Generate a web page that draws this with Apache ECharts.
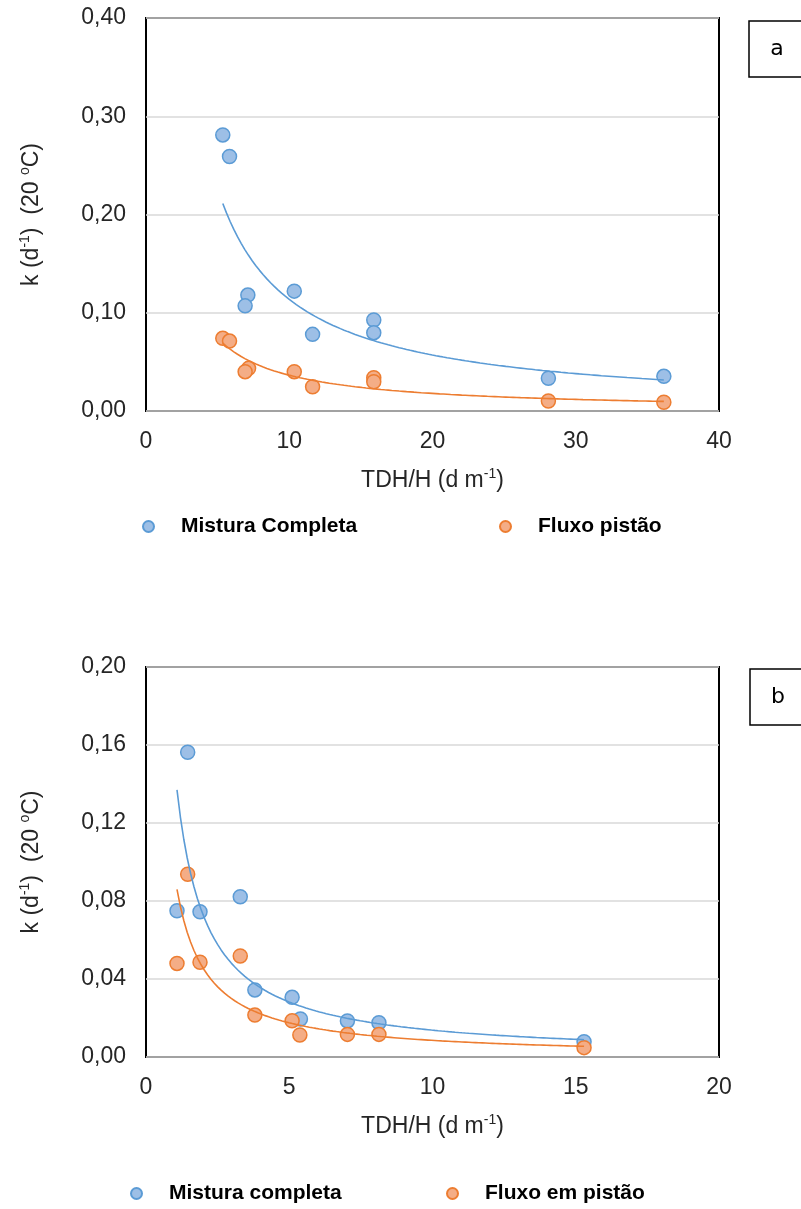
<!DOCTYPE html>
<html><head><meta charset="utf-8">
<script src="https://cdn.jsdelivr.net/npm/echarts@6/dist/echarts.min.js"></script>
<style>html,body{margin:0;padding:0;background:#fff}#c{width:801px;height:1209px}</style>
</head><body><div id="c"></div>
<script>
// ---- Panel a data ----
const aXTicks = [0, 10, 20, 30, 40];
const aYTicks = [0, 0.10, 0.20, 0.30, 0.40];
const aMistX = [5.36, 5.83, 7.11, 6.92, 10.35, 11.63, 15.9, 15.9, 28.09, 36.15];
const aMistY = [0.281, 0.259, 0.118, 0.107, 0.122, 0.078, 0.0926, 0.0797, 0.0333, 0.0353];
const aFluxX = [5.36, 5.83, 7.16, 6.92, 10.35, 11.63, 15.9, 15.9, 28.09, 36.15];
const aFluxY = [0.074, 0.0712, 0.0434, 0.040, 0.040, 0.0247, 0.0339, 0.0298, 0.0102, 0.0089];
const aNames = ['Mistura Completa', 'Fluxo pistão'];

// ---- Panel b data ----
const bXTicks = [0, 5, 10, 15, 20];
const bYTicks = [0, 0.04, 0.08, 0.12, 0.16, 0.20];
const bMistX = [1.455, 1.082, 1.885, 3.29, 3.80, 5.10, 5.39, 7.03, 8.13, 15.29];
const bMistY = [0.1563, 0.0750, 0.0745, 0.0822, 0.0344, 0.0306, 0.0195, 0.0185, 0.0176, 0.0078];
const bFluxX = [1.455, 1.082, 1.885, 3.29, 3.80, 5.10, 5.37, 7.03, 8.13, 15.29];
const bFluxY = [0.0937, 0.048, 0.0486, 0.0518, 0.0215, 0.0186, 0.0113, 0.0116, 0.0116, 0.0048];
const bNames = ['Mistura completa', 'Fluxo em pistão'];

const panelLabels = ['a', 'b'];

// power-law trendline (least squares on ln x, ln y), like a spreadsheet trendline
function powerFit(xs, ys) {
  const n = xs.length; let sx = 0, sy = 0, sxx = 0, sxy = 0;
  for (let i = 0; i < n; i++) {
    const lx = Math.log(xs[i]), ly = Math.log(ys[i]);
    sx += lx; sy += ly; sxx += lx * lx; sxy += lx * ly;
  }
  const b = (n * sxy - sx * sy) / (n * sxx - sx * sx);
  const a = Math.exp((sy - b * sx) / n);
  return { a, b };
}
function trend(xs, ys) {
  const f = powerFit(xs, ys);
  const lo = Math.min(...xs), hi = Math.max(...xs);
  const pts = [];
  for (let k = 0; k <= 120; k++) {
    const x = lo + (hi - lo) * k / 120;
    pts.push([x, f.a * Math.pow(x, f.b)]);
  }
  return pts;
}
const zip = (xs, ys) => xs.map((x, i) => [x, ys[i]]);

const FONT = 'Liberation Sans, Arial, sans-serif';
const TXT = '#262626';
const BLUE = { fill: '#9dbfe6', line: '#5b9bd5' };
const ORANGE = { fill: '#f4ad86', line: '#ed7d31' };

function yFmt(v) { return v.toFixed(2).replace('.', ','); }

const nameRich = {
  a: { fontSize: 23, fontFamily: FONT, color: TXT, lineHeight: 28 },
  s: { fontSize: 14, fontFamily: FONT, color: TXT, verticalAlign: 'top', lineHeight: 15 }
};

function xAxisCfg(gi, ticks) {
  return {
    type: 'value', gridIndex: gi,
    min: ticks[0], max: ticks[ticks.length - 1], interval: ticks[1] - ticks[0],
    splitLine: { show: false }, axisTick: { show: false }, axisLine: { show: false },
    axisLabel: { fontSize: 23, fontFamily: FONT, color: TXT, margin: 19 },
    name: '{a|TDH/H (d m}{s|-1}{a|)}', nameLocation: 'middle', nameGap: 56,
    nameTextStyle: { rich: nameRich }
  };
}
function yAxisCfg(gi, ticks) {
  return {
    type: 'value', gridIndex: gi,
    min: ticks[0], max: ticks[ticks.length - 1], interval: ticks[1] - ticks[0],
    splitLine: { show: true, lineStyle: { color: '#d9d9d9', width: 1.5 } },
    axisTick: { show: false }, axisLine: { show: false },
    axisLabel: { fontSize: 23, fontFamily: FONT, color: TXT, margin: 20, formatter: yFmt, padding: [6, 0, 0, 0] },
    name: '{a|k (d}{s|-1}{a|)  (20 }{s|o}{a|C)}', nameLocation: 'middle', nameGap: 100, nameRotate: 90,
    nameTextStyle: { rich: nameRich }
  };
}
function scatter(name, gi, xs, ys, c) {
  return {
    type: 'scatter', name, xAxisIndex: gi, yAxisIndex: gi, data: zip(xs, ys),
    symbol: 'circle', symbolSize: 14, z: 3,
    itemStyle: { color: c.fill, borderColor: c.line, borderWidth: 1.5, opacity: 1 }
  };
}
function trendLine(gi, xs, ys, c) {
  return {
    type: 'line', xAxisIndex: gi, yAxisIndex: gi, data: trend(xs, ys),
    showSymbol: false, symbol: 'none', smooth: false, z: 4, silent: true,
    lineStyle: { color: c.line, width: 1.6 }
  };
}
function legendItem(name, left, top) {
  return {
    data: [name], left, top, padding: 0, icon: 'circle', itemWidth: 11, itemHeight: 11,
    textStyle: { fontSize: 21, fontWeight: 'bold', fontFamily: FONT, color: '#000', padding: [0, 0, 0, 22] },
    selectedMode: false
  };
}
function panelBox(x, y, label) {
  return [
    { type: 'rect', shape: { x, y, width: 60, height: 56 }, style: { fill: '#fff', stroke: '#000', lineWidth: 1.5 } },
    { type: 'text', x: x + 28, y: y + 28, style: { text: label, fontSize: 22, fontFamily: 'DejaVu Sans, sans-serif', fill: '#000', align: 'center', verticalAlign: 'middle' } }
  ];
}

const chart = echarts.init(document.getElementById('c'), null, { renderer: 'canvas' });
chart.setOption({
  backgroundColor: '#fff',
  animation: false,
  grid: [
    { left: 146, top: 18, width: 573, height: 393, show: true, borderColor: '#000', borderWidth: 2, backgroundColor: 'transparent' },
    { left: 146, top: 667, width: 573, height: 390, show: true, borderColor: '#000', borderWidth: 2, backgroundColor: 'transparent' }
  ],
  xAxis: [xAxisCfg(0, aXTicks), xAxisCfg(1, bXTicks)],
  yAxis: [yAxisCfg(0, aYTicks), yAxisCfg(1, bYTicks)],
  legend: [
    legendItem(aNames[0], 142, 516),
    legendItem(aNames[1], 499, 516),
    legendItem(bNames[0], 130, 1183),
    legendItem(bNames[1], 446, 1183)
  ],
  graphic: [...panelBox(749, 21, panelLabels[0]), ...panelBox(750, 669, panelLabels[1])],
  series: [
    scatter(aNames[0], 0, aMistX, aMistY, BLUE),
    scatter(aNames[1], 0, aFluxX, aFluxY, ORANGE),
    trendLine(0, aMistX, aMistY, BLUE),
    trendLine(0, aFluxX, aFluxY, ORANGE),
    scatter(bNames[0], 1, bMistX, bMistY, BLUE),
    scatter(bNames[1], 1, bFluxX, bFluxY, ORANGE),
    trendLine(1, bMistX, bMistY, BLUE),
    trendLine(1, bFluxX, bFluxY, ORANGE)
  ]
});
</script></body></html>
